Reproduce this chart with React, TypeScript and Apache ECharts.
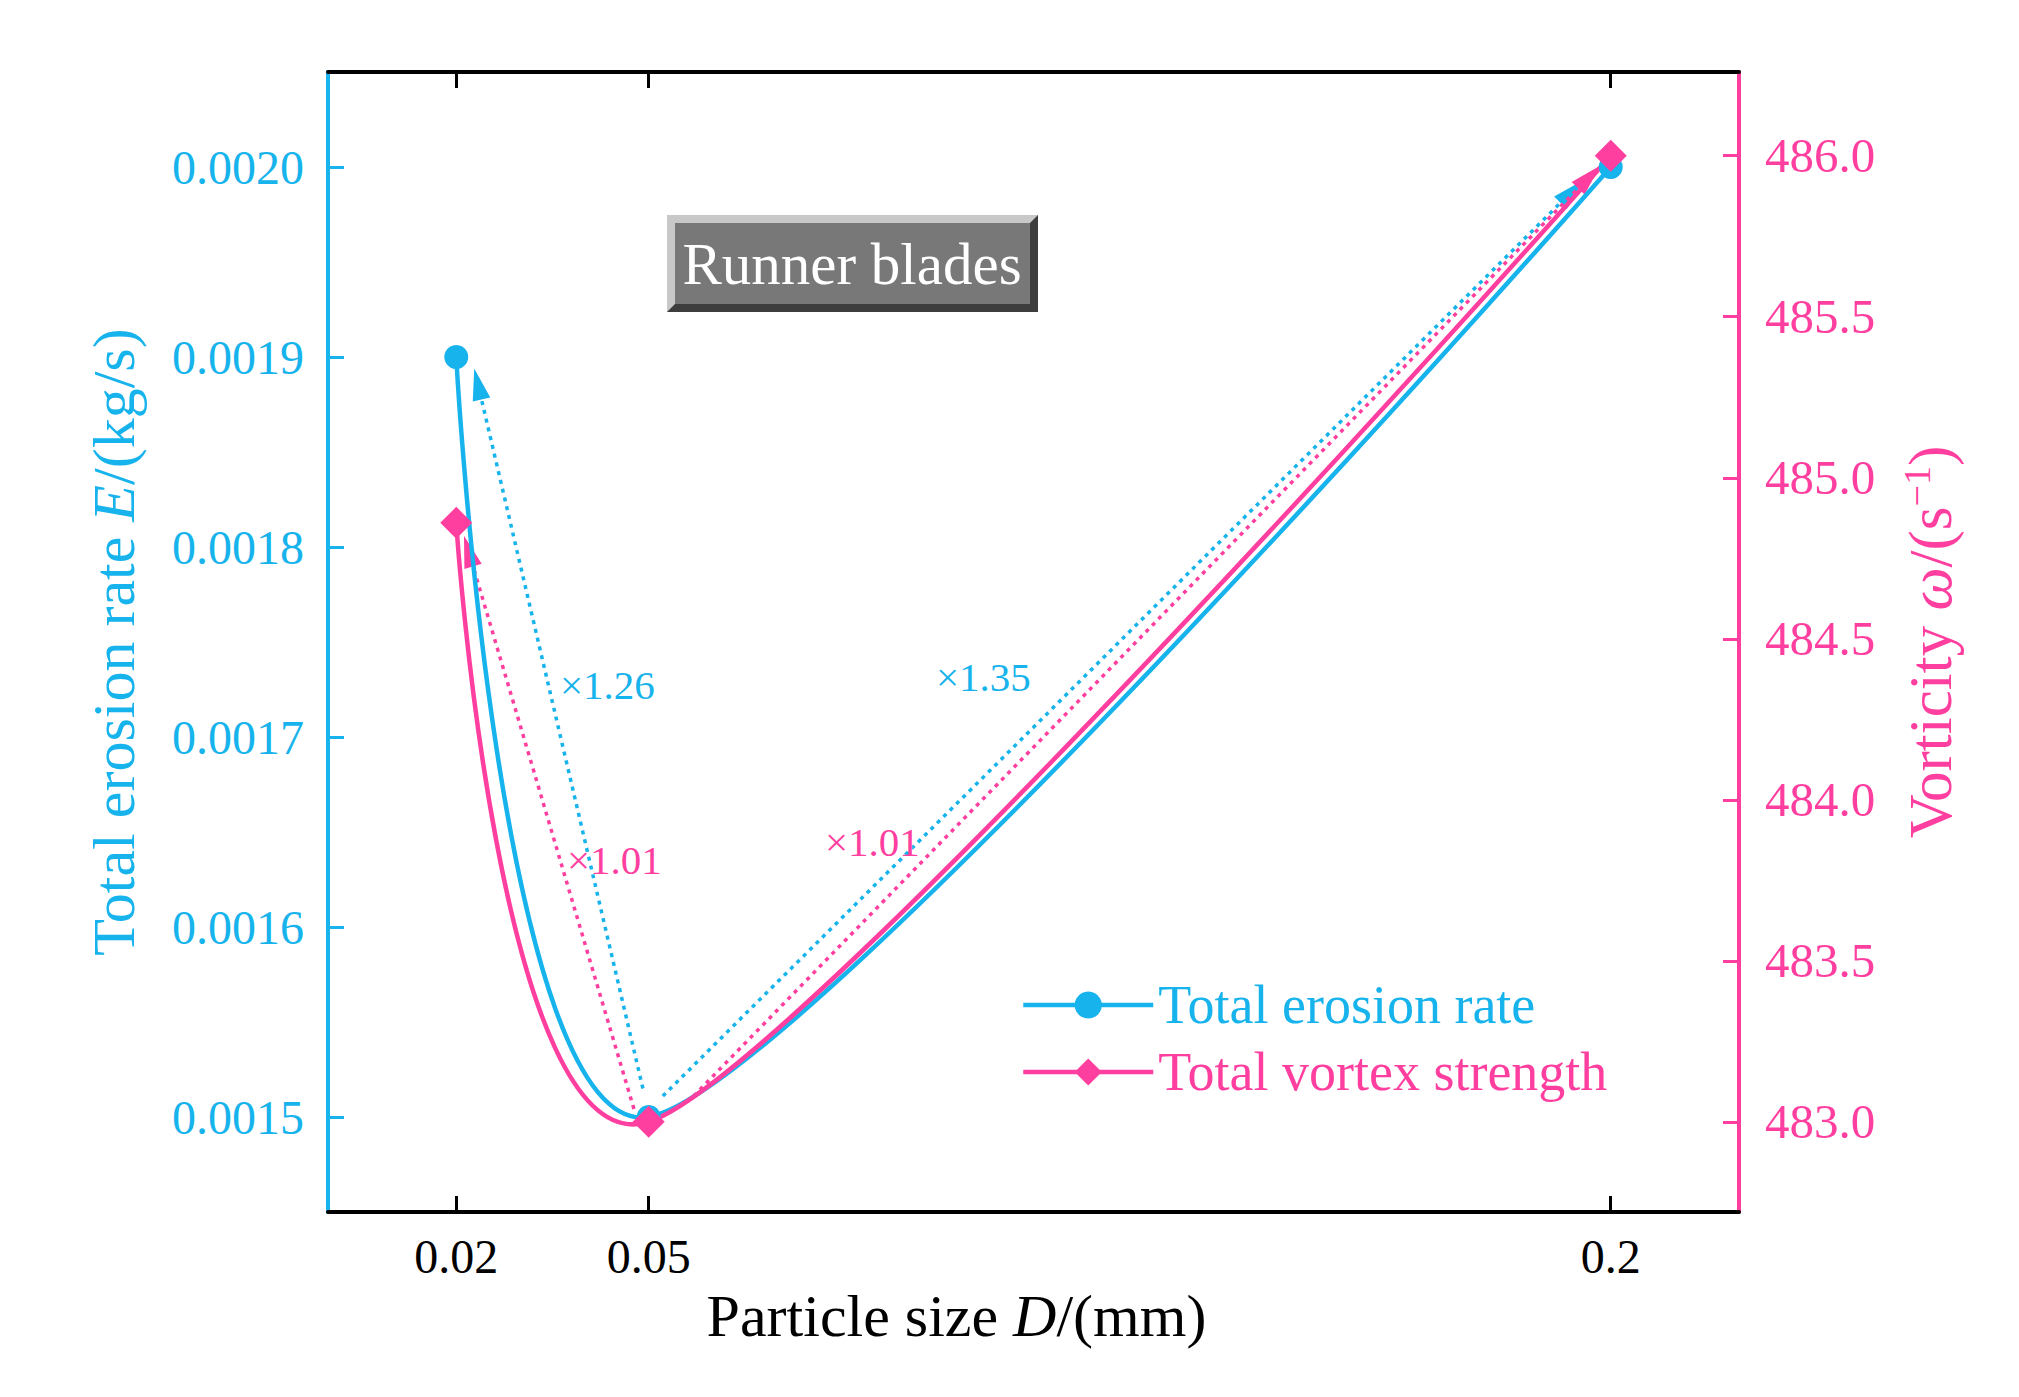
import { useEffect, useRef } from "react";
import * as echarts from "echarts";

const FONT = '"Liberation Serif", "Times New Roman", serif';
const CYAN = "#17b3ec";
const PINK = "#ff3f9f";

// particle sizes (mm)
const SIZES = [0.02, 0.05, 0.2];
const EROSION = [0.0019, 0.0015, 0.002];
const VORTEX = [484.86, 483.0, 486.0];

const X_TICKS = [0.02, 0.05, 0.2];
const EROSION_TICKS = [0.0015, 0.0016, 0.0017, 0.0018, 0.0019, 0.002];
const VORTEX_TICKS = [483, 483.5, 484, 484.5, 485, 485.5, 486];

// dotted ratio arrows, [x0, y0, x1, y1] in data units
const EROSION_ARROWS = [
    [0.0491, 0.001515, 0.0228, 0.001894],
    [0.0522, 0.001511, 0.1957, 0.001993],
];
const VORTEX_ARROWS = [
    [0.0477, 483.04, 0.0212, 484.82],
    [0.057, 483.08, 0.1984, 485.97],
];

const RATIO_LABELS = ["×1.26", "×1.35", "×1.01", "×1.01"];

// spline tension used for the connecting curves
const TENSION = 0.13;

export default function App() {
    const ref = useRef<HTMLDivElement | null>(null);

    useEffect(() => {
        if (!ref.current) return;
        const chart = echarts.init(ref.current, undefined, { renderer: "svg" });

        // smooth curve through the points (Catmull-Rom style, flat ends)
        const curveSeries = (ys: number[], yAxisIndex: number, color: string, z: number) => ({
            type: "custom",
            xAxisIndex: 0,
            yAxisIndex,
            silent: true,
            clip: false,
            z,
            data: SIZES.map((x, i) => [x, ys[i]]),
            renderItem: (params: any, api: any) => {
                if (params.dataIndex !== 0) return null;
                const p = SIZES.map((x, i) => api.coord([x, ys[i]]));
                const t = p.map((_, i) => {
                    if (i === 0 || i === p.length - 1) return [0, 0];
                    return [(p[i + 1][0] - p[i - 1][0]) * TENSION, (p[i + 1][1] - p[i - 1][1]) * TENSION];
                });
                const children = [];
                for (let i = 0; i < p.length - 1; i++) {
                    children.push({
                        type: "bezierCurve",
                        shape: {
                            x1: p[i][0],
                            y1: p[i][1],
                            cpx1: p[i][0] + t[i][0],
                            cpy1: p[i][1] + t[i][1],
                            cpx2: p[i + 1][0] - t[i + 1][0],
                            cpy2: p[i + 1][1] - t[i + 1][1],
                            x2: p[i + 1][0],
                            y2: p[i + 1][1],
                        },
                        style: { stroke: color, lineWidth: 4.5, fill: null },
                    });
                }
                return { type: "group", children };
            },
        });

        const arrowSeries = (arrows: number[][], yAxisIndex: number, color: string) => ({
            type: "custom",
            xAxisIndex: 0,
            yAxisIndex,
            silent: true,
            clip: false,
            z: 1,
            data: arrows,
            renderItem: (_: any, api: any) => {
                const a = api.coord([api.value(0), api.value(1)]);
                const b = api.coord([api.value(2), api.value(3)]);
                const dx = b[0] - a[0];
                const dy = b[1] - a[1];
                const len = Math.hypot(dx, dy);
                const ux = dx / len;
                const uy = dy / len;
                const hl = 32;
                const hw = 9;
                const bx = b[0] - ux * hl;
                const by = b[1] - uy * hl;
                return {
                    type: "group",
                    children: [
                        {
                            type: "line",
                            shape: { x1: a[0], y1: a[1], x2: bx + ux * 4, y2: by + uy * 4 },
                            style: { stroke: color, lineWidth: 3.5, lineDash: [4, 5], fill: null },
                        },
                        {
                            type: "polygon",
                            shape: {
                                points: [
                                    [b[0], b[1]],
                                    [bx - uy * hw, by + ux * hw],
                                    [bx + uy * hw, by - ux * hw],
                                ],
                            },
                            style: { fill: color },
                        },
                    ],
                };
            },
        });

        const ratioText = (i: number, x: number, y: number, color: string) => ({
            type: "text",
            x,
            y,
            z: 50,
            style: {
                text: RATIO_LABELS[i],
                fill: color,
                fontSize: 41,
                fontFamily: FONT,
                verticalAlign: "middle",
            },
        });

        const option: any = {
            animation: false,
            backgroundColor: "#ffffff",
            grid: { left: 320, top: 64, width: 1411, height: 1140 },
            legend: {
                orient: "vertical",
                left: 1008,
                top: 965,
                itemWidth: 130,
                itemHeight: 34,
                itemGap: 13,
                lineStyle: { width: 4.5, opacity: 1 },
                textStyle: { fontSize: 54, fontFamily: FONT, lineHeight: 54 },
                data: [
                    { name: "Total erosion rate", textStyle: { color: CYAN } },
                    { name: "Total vortex strength", textStyle: { color: PINK } },
                ],
            },
            xAxis: [
                {
                    type: "value",
                    position: "bottom",
                    min: 0,
                    max: 0.22,
                    axisLine: { show: true, onZero: false, lineStyle: { color: "#000", width: 4 } },
                    axisTick: { show: true, inside: true, length: 16, customValues: X_TICKS, lineStyle: { color: "#000", width: 3 } },
                    axisLabel: { customValues: X_TICKS, color: "#000", fontSize: 48, fontFamily: FONT, margin: 20 },
                    splitLine: { show: false },
                    name: "{n|Particle size }{i|D}{n|/(mm)}",
                    nameLocation: "middle",
                    nameGap: 74,
                    nameTextStyle: {
                        padding: [0, 154, 0, 0],
                        rich: {
                            n: { fontSize: 60, fontFamily: FONT, color: "#000" },
                            i: { fontSize: 60, fontFamily: FONT, color: "#000", fontStyle: "italic" },
                        },
                    },
                },
                {
                    type: "value",
                    position: "top",
                    min: 0,
                    max: 0.22,
                    axisLine: { show: true, onZero: false, lineStyle: { color: "#000", width: 4 } },
                    axisTick: { show: true, inside: true, length: 16, customValues: X_TICKS, lineStyle: { color: "#000", width: 3 } },
                    axisLabel: { show: false, customValues: X_TICKS },
                    splitLine: { show: false },
                },
            ],
            yAxis: [
                {
                    type: "value",
                    position: "left",
                    min: 0.00145,
                    max: 0.00205,
                    axisLine: { show: true, onZero: false, lineStyle: { color: CYAN, width: 4 } },
                    axisTick: { show: true, inside: true, length: 16, customValues: EROSION_TICKS, lineStyle: { color: CYAN, width: 3 } },
                    axisLabel: {
                        customValues: EROSION_TICKS,
                        formatter: (v: number) => v.toFixed(4),
                        color: CYAN,
                        fontSize: 48,
                        fontFamily: FONT,
                        margin: 24,
                    },
                    splitLine: { show: false },
                    name: "{n|Total erosion rate }{i|E}{n|/(kg/s)}",
                    nameLocation: "middle",
                    nameGap: 184,
                    nameTextStyle: {
                        rich: {
                            n: { fontSize: 60, fontFamily: FONT, color: CYAN },
                            i: { fontSize: 60, fontFamily: FONT, color: CYAN, fontStyle: "italic" },
                        },
                    },
                },
                {
                    type: "value",
                    position: "right",
                    min: 482.72,
                    max: 486.26,
                    axisLine: { show: true, onZero: false, lineStyle: { color: PINK, width: 4 } },
                    axisTick: { show: true, inside: true, length: 16, customValues: VORTEX_TICKS, lineStyle: { color: PINK, width: 3 } },
                    axisLabel: {
                        customValues: VORTEX_TICKS,
                        formatter: (v: number) => v.toFixed(1),
                        color: PINK,
                        fontSize: 49,
                        fontFamily: FONT,
                        margin: 26,
                    },
                    splitLine: { show: false },
                    name: "{n|Vorticity }{i|ω}{n|/(s}{sup|−1}{n|)}",
                    nameLocation: "middle",
                    nameGap: 158,
                    nameTextStyle: {
                        rich: {
                            n: { fontSize: 61, fontFamily: FONT, color: PINK, lineHeight: 66 },
                            i: { fontSize: 61, fontFamily: FONT, color: PINK, fontStyle: "italic", lineHeight: 66 },
                            sup: { fontSize: 38, fontFamily: FONT, color: PINK, padding: [0, 0, 26, 0] },
                        },
                    },
                },
            ],
            series: [
                arrowSeries(EROSION_ARROWS, 0, CYAN),
                arrowSeries(VORTEX_ARROWS, 1, PINK),
                curveSeries(EROSION, 0, CYAN, 2),
                curveSeries(VORTEX, 1, PINK, 3),
                {
                    name: "Total erosion rate",
                    type: "line",
                    xAxisIndex: 0,
                    yAxisIndex: 0,
                    symbol: "circle",
                    symbolSize: 24,
                    lineStyle: { color: CYAN, width: 0, opacity: 0 },
                    itemStyle: { color: CYAN },
                    data: SIZES.map((x, i) => [x, EROSION[i]]),
                    z: 4,
                },
                {
                    name: "Total vortex strength",
                    type: "line",
                    xAxisIndex: 0,
                    yAxisIndex: 1,
                    symbol: "diamond",
                    symbolSize: 32,
                    lineStyle: { color: PINK, width: 0, opacity: 0 },
                    itemStyle: { color: PINK },
                    data: SIZES.map((x, i) => [x, VORTEX[i]]),
                    z: 5,
                },
            ],
            graphic: [
                {
                    type: "group",
                    x: 659,
                    y: 207,
                    z: 60,
                    children: [
                        { type: "rect", shape: { x: 0, y: 0, width: 371, height: 97 }, style: { fill: "#3d3d3d" } },
                        {
                            type: "polygon",
                            shape: { points: [[0, 0], [371, 0], [363, 8], [8, 8], [8, 89], [0, 97]] },
                            style: { fill: "#c8c8c8" },
                        },
                        { type: "rect", shape: { x: 8, y: 8, width: 355, height: 81 }, style: { fill: "#787878" } },
                        {
                            type: "text",
                            x: 185,
                            y: 49,
                            style: {
                                text: "Runner blades",
                                fill: "#ffffff",
                                fontSize: 59,
                                fontFamily: FONT,
                                align: "center",
                                verticalAlign: "middle",
                            },
                        },
                    ],
                },
                ratioText(0, 552, 677, CYAN),
                ratioText(1, 928, 669, CYAN),
                ratioText(2, 559, 852, PINK),
                ratioText(3, 817, 834, PINK),
            ],
        };

        chart.setOption(option);
        return () => chart.dispose();
    }, []);

    return <div ref={ref} style={{ width: 2003, height: 1381 }} />;
}
